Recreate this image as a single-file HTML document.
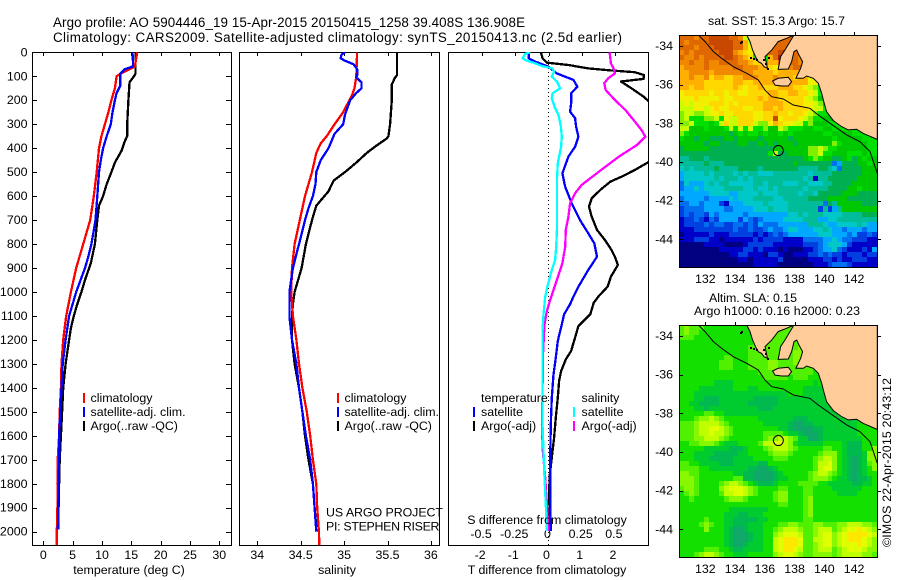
<!DOCTYPE html>
<html lang="en">
<head>
<meta charset="utf-8">
<title>Argo profile 5904446_19</title>
<style>
html,body{margin:0;padding:0;background:#fff;width:900px;height:580px;overflow:hidden}
svg{display:block}
text{font-family:"Liberation Sans",sans-serif;font-size:12.4px;fill:#000}
</style>
</head>
<body>
<svg id="chart" xmlns="http://www.w3.org/2000/svg" width="900" height="580" viewBox="0 0 900 580">
<defs>
<clipPath id="clip-temp"><rect x="32" y="52" width="199" height="493"/></clipPath>
<clipPath id="clip-sal"><rect x="239" y="52" width="200" height="493"/></clipPath>
<clipPath id="clip-diff"><rect x="448" y="52" width="200" height="493"/></clipPath>
<clipPath id="clip-map1"><rect x="679" y="35" width="198" height="232"/></clipPath>
<clipPath id="clip-map2"><rect x="679" y="325" width="198" height="232"/></clipPath>
</defs>
<text x="53" y="27" style="font-size:13.4px" textLength="472">Argo profile: AO 5904446_19 15-Apr-2015 20150415_1258 39.408S 136.908E</text>
<text x="53" y="42" style="font-size:13.4px" textLength="569">Climatology: CARS2009. Satellite-adjusted climatology: synTS_20150413.nc (2.5d earlier)</text>

<g id="heat1" clip-path="url(#clip-map1)"></g>
<g id="heat2" clip-path="url(#clip-map2)"></g>
<g id="plot-temp"></g>
<g id="plot-sal"></g>
<g id="plot-diff"></g>
<g id="maps-over"></g>

<text x="129" y="574" text-anchor="middle">temperature (deg C)</text>
<text x="337" y="574" text-anchor="middle">salinity</text>
<text x="547" y="574" text-anchor="middle">T difference from climatology</text>
<text x="547" y="524" text-anchor="middle">S difference from climatology</text>

<g>
<rect x="83" y="393" width="2" height="10" fill="#f00"/>
<rect x="83" y="407" width="2" height="10" fill="#00f"/>
<rect x="83" y="421" width="2" height="10" fill="#000"/>
<text x="90.5" y="402">climatology</text>
<text x="90.5" y="416">satellite-adj. clim.</text>
<text x="90.5" y="430">Argo(..raw -QC)</text>
</g>
<g>
<rect x="337" y="393" width="2" height="10" fill="#f00"/>
<rect x="337" y="407" width="2" height="10" fill="#00f"/>
<rect x="337" y="421" width="2" height="10" fill="#000"/>
<text x="344.5" y="402">climatology</text>
<text x="344.5" y="416" textLength="94.5">satellite-adj. clim.</text>
<text x="344.5" y="430">Argo(..raw -QC)</text>
</g>
<text x="326" y="516.5" textLength="117">US ARGO PROJECT</text>
<text x="326" y="530.5" textLength="113.5">PI: STEPHEN RISER</text>
<g>
<text x="481" y="402">temperature</text>
<rect x="473" y="407" width="2" height="10" fill="#00f"/>
<text x="481" y="416">satellite</text>
<rect x="473" y="421" width="2" height="10" fill="#000"/>
<text x="481" y="430">Argo(-adj)</text>
<text x="581.5" y="402">salinity</text>
<rect x="573" y="407" width="2" height="10" fill="#0ff"/>
<text x="581.5" y="416">satellite</text>
<rect x="573" y="421" width="2" height="10" fill="#f0f"/>
<text x="581.5" y="430">Argo(-adj)</text>
</g>

<text x="708" y="25" textLength="137">sat. SST: 15.3 Argo: 15.7</text>
<text x="709" y="302" textLength="88">Altim. SLA: 0.15</text>
<text x="694" y="315" textLength="166">Argo h1000: 0.16 h2000: 0.23</text>
<text transform="translate(891 547) rotate(-90)" textLength="169">©IMOS 22-Apr-2015 20:43:12</text>
</svg>

<script>
// ---------- profile data (depth in m, temperature in deg C, salinity in PSU) ----------
const depthTicks = [0,100,200,300,400,500,600,700,800,900,1000,1100,1200,1300,1400,1500,1600,1700,1800,1900,2000];
const tempTicks = [0,5,10,15,20,25,30];
const salTicks = [34,34.5,35,35.5,36];
const salTickLabels = ['34','34.5','35','35.5','36'];
const diffTTicks = [-2,-1,0,1,2];
const diffTTickLabels = ['-2','-1','0','1','2'];
const diffSTicks = [-0.5,-0.25,0,0.25,0.5];
const diffSTickLabels = ['-0.5','-0.25','0','0.25','0.5'];

const tempClimDepth = [0,60,90,100,150,200,250,300,350,400,500,600,700,800,900,1000,1100,1200,1300,1400,1500,1600,1700,1800,1900,2000,2060];
const tempClimValues = [16.0,15.6,13.1,12.5,12.2,11.6,11.1,10.5,9.9,9.5,9.1,8.6,8.0,6.8,5.6,4.7,3.9,3.4,3.1,3.0,2.8,2.7,2.45,2.4,2.4,2.3,2.3];
const tempSatDepth = [0,50,60,70,90,110,140,170,200,250,300,350,400,450,500,600,700,800,850,900,1000,1100,1200,1300,1400,1500,1600,1700,1800,1900,1950,1990];
const tempSatValues = [15.2,15.3,15.2,13.9,13.1,13.1,13.1,12.5,12.2,11.8,11.5,10.8,10.2,9.8,9.5,9.2,8.9,8.2,7.7,7.1,5.6,4.4,3.8,3.3,3.1,2.9,2.7,2.7,2.6,2.55,2.55,2.45];
const tempArgoDepth = [0,90,105,125,200,300,350,370,410,460,500,550,600,640,700,800,880,950,1000,1050,1100,1150,1200,1300,1400,1500,1600,1700,1800,1900,1990];
const tempArgoValues = [15.7,15.7,15.3,14.7,14.5,14.3,14.3,13.9,13.35,12.2,11.6,10.8,10.2,9.5,9.2,8.8,8.1,7.1,6.5,5.8,5.2,4.7,4.4,3.8,3.4,3.2,3.0,2.8,2.7,2.6,2.55];

const salClimDepth = [0,100,150,180,250,300,350,380,420,500,600,700,800,900,1000,1100,1200,1300,1400,1500,1600,1700,1800,1900,2000,2060];
const salClimValues = [35.15,35.14,35.12,35.09,34.99,34.89,34.80,34.73,34.68,34.63,34.55,34.49,34.43,34.40,34.39,34.41,34.45,34.48,34.52,34.57,34.61,34.64,34.68,34.69,34.71,34.715];
const salSatDepth = [0,10,25,35,50,70,90,105,125,150,170,200,230,260,300,340,400,450,500,550,600,650,700,800,900,1000,1100,1200,1300,1400,1500,1600,1700,1800,1900,2000];
const salSatValues = [35.01,34.97,34.96,35.01,35.11,35.15,35.155,35.14,35.2,35.2,35.14,35.07,35.04,35.01,34.99,34.89,34.82,34.73,34.68,34.67,34.64,34.59,34.55,34.48,34.41,34.37,34.37,34.4,34.45,34.48,34.52,34.56,34.61,34.64,34.66,34.68];
const salArgoDepth = [0,95,110,135,200,300,350,360,390,420,460,500,535,580,640,700,800,900,1000,1050,1100,1200,1300,1400,1500,1600,1700,1800,1900,1980];
const salArgoValues = [35.61,35.61,35.58,35.55,35.55,35.53,35.51,35.49,35.37,35.26,35.14,35.01,34.88,34.82,34.68,34.63,34.56,34.51,34.43,34.41,34.4,34.4,34.43,34.48,34.52,34.55,34.59,34.64,34.66,34.68];

const diffTSatDepth = [0,25,39,60,88,115,143,171,213,248,275,310,352,394,435,505,560,630,700,755,797,853,908,978,1019,1051,1093,1135,1204,1274,1344,1441,1552,1691,1830,1997];
const diffTSatValues = [-0.6,-0.6,-0.4,0,0.25,0.75,0.87,0.68,0.68,0.65,0.8,0.83,0.9,0.8,0.6,0.42,0.5,0.7,0.95,1.2,1.38,1.46,1.2,0.9,0.75,0.65,0.47,0.4,0.28,0.22,0.15,0.1,0.07,0.05,0.05,0.07];
const diffTArgoDepth = [0,25,43,53,67,76,83,95,111,122,150,185,206,324,459,491,519,540,574,609,644,686,741,783,825,853,887,936,978,1019,1045,1093,1142,1190,1246,1281,1330,1371,1441,1524,1608,1691,1775,1858,1997];
const diffTArgoValues = [-0.23,-0.18,-0.05,0.6,1.2,1.9,2.6,2.88,2.86,2.18,2.5,2.86,3.03,4.0,3.0,2.6,2.2,1.86,1.56,1.3,1.22,1.3,1.46,1.7,1.9,2.0,2.09,1.88,1.78,1.5,1.36,1.26,0.9,0.8,0.68,0.52,0.38,0.32,0.28,0.22,0.17,0.1,0.03,0.02,0.05];
const diffSSatDepth = [0,7,25,35,46,57,67,81,102,122,150,171,192,227,261,310,352,394,463,533,602,672,741,811,866,908,978,1019,1093,1163,1274,1441,1552,1663,1775,1886,1997];
const diffSSatValues = [-0.138,-0.176,-0.196,-0.163,-0.1,-0.05,0.03,0.043,0.025,0.063,0.088,0.03,0.025,0.045,0.075,0.093,0.1,0.095,0.07,0.063,0.063,0.063,0.063,0.058,0.05,0.025,-0.008,-0.025,-0.038,-0.045,-0.045,-0.045,-0.045,-0.038,-0.03,-0.02,-0.012];
const diffSArgoDepth = [0,46,67,88,108,129,157,199,241,282,324,352,387,435,477,519,553,588,630,686,741,811,880,949,1033,1079,1135,1274,1441,1552,1663,1775,1886,1997];
const diffSArgoValues = [0.46,0.47,0.49,0.5,0.45,0.42,0.43,0.5,0.58,0.64,0.7,0.73,0.665,0.53,0.43,0.33,0.25,0.2,0.163,0.15,0.13,0.126,0.105,0.063,0.0125,-0.012,-0.03,-0.043,-0.045,-0.05,-0.043,-0.025,-0.012,0];

// ---------- map data ----------
const lonTicks = [132,134,136,138,140,142];
const latTicks = [-34,-36,-38,-40,-42,-44];
const argoLon = 136.908;
const argoLat = -39.408;
const sstColors = {a:'#000080',b:'#0000c8',c:'#0040e0',d:'#0070f0',e:'#00a8ff',f:'#00c8c8',g:'#00bc98',h:'#00b050',i:'#00c800',j:'#00e000',k:'#80f000',l:'#c8ff00',m:'#f0f000',n:'#ffd800',o:'#ffb000',p:'#f08800',q:'#e06800',r:'#c84800',s:'#a02000'};
const sstRows = [
"qqqpqqrrrrqqpljjqqqq",
"qpqqqqrrrrrqqoljjqqq",
"qqqpqqqrrrrqqomljjqq",
"pqpqqqqqrrrponmjjjqqrsqqqpp",
"qppqpqqqqrrqponjjjoqsrqqpp",
"ppqppqppqqqqpponnjooqrqqpp",
"oppppqpppppqqpppoonmoopqqqqppq",
"ooppppoppppppppoooonoooooppoo",
"oopoopnoonnoopppooopooonoomm",
"ooooonnnnnnoonnoooonoooooommlkjj",
"oonoonnnnnnonmnnonnnooonnmlkjjj",
"mnnnnnmnnmnnmmnnnnoonnoonnmljjjj",
"mmmnmmmmnmmnnnnnonoonnnnnmlkijjj",
"lmlmmmnnnmnmnnnnnoooonnnnmmlkijjj",
"lllmmlmnmmnnnmmnnoononnnnnmlljijj",
"kllkklmmnmmnnnnmmnnonnmnnmlkjjiij",
"kljjjkkljmllnnnmmnnrmnnnmlkjjiiijj",
"kkljjjijlnllnnnlkkmonmmlljkiiijjjj",
"lliiijiiijljljljjkiilkjjjiijjiijjjjj",
"kjiiiiiiiihijijjijiijijiiiiiijjiiiijj",
"jiihiihhhiihiiiihiiiiihiiiiiiiijiiiiijj",
"iiiiihiihhhhiihhihihiiihiiiiiiikjiiiiijj",
"hiiiiihhhhhhhhhhhhhiiiiiiikklkjjiiiiiijj",
"hhhhhhhhhhhhhhhhhhjlhhiiiikkljjiiijjjij",
"gghhhghhhhhhhhhhhhhhhhhhhijkjiihhijhijii",
"ggggghggghhhhhhhhhhhhhhihhhhhhhdehhhiiji",
"fgfgggghgggghhhhghhhhhhhgggghhgfdhhhhiii",
"effffgfggggfgfggfffgggggggfgggghhhhhhiii",
"effffffgfgggfgfggggggggggfgbgghhhhhhiiii",
"dfeeefgfggfffffggfgggfffggfffgghhhhiiiii",
"deefeffffggggffgffgfgggggfgggghhhhiijiii",
"eeeeeeffffeeffffgfffggggfggfhhhhhiiihhhh",
"deeeedeeeefefffggggffggggghhhhiiiihhhhhh",
"ddeedeeecbeeeffffgffffgggggggdhgiiiiihhh",
"cddddeeeeddeeeefffgfffggggggcgcegiiiiiii",
"cdcddcedeeeeedeeeeeeeeffgfgggffffgggghhh",
"bccdcbdceeeecedcdeeeeffffgggeeffgggggggg",
"bccccdcddccddcdcedddeeeeeegggfeeffffgfee",
"bbbccccccccdccdccdeddeffeeeffgfeedeeedee",
"abbbbbcbbbcccccbcbcdcdeeeeeefffeeedeccdc",
"bbbcccbbabbbbbbcbccccbbbbddddeefeddcccbb",
"aaaaabbbbaaaabcccccbbbbbbcccdefffecbbbbb",
"aaaaaaaabbbbbccbcbbbabaaabbcdeefdcbbbcbe",
"aaaaaaaaaabbccbbbaccbaabbbccdcdccbcccbcc",
"aaaaaaaaaaaabbabbbbbcaaaaabbbccbcbbcccbb",
"aaaaaaaaaaaaaaabbbbbaaaaaaabbbcdddcbbbbb"
];
const slaColors = ['#10a868','#00ba50','#00cc30','#14e000','#50f000','#88f800','#c0ff00','#e0ff00','#ffe800'];
const slaRows = [
"4544433333333344444444444433333333333333",
"4544333333333334444444444444333333333333",
"4443333333333334444444444444333333333333",
"3333333333333334444444445544333333333333",
"3333333333333344444444445544333333333333",
"3333333333333344444444455544333333333333",
"3333333334433344444444455544433333333333",
"3333333344433344445544455544433333333333",
"3333333344433344445544444444433333333333",
"3333333333333333444444444443333333333333",
"3333333333333333344444344433333333333333",
"3333333222233333333333333332333333333333",
"3333222222233322333333333222233333333333",
"3332222222222222222222333222223333333333",
"3332211122222221111122222222222333333333",
"3322111122222211111122222222222233333333",
"3332212222222222111222222222222223333333",
"3333344332222222222222222222222222233333",
"3334556543333333222222211122222222223333",
"4445666654333333322222100112222222223333",
"4445667765433333333322100001122222223333",
"4445667665433333344443221000122222223333",
"4445566654333333345566542200122222222333",
"3344555432223333466776532222233332111333",
"3333322222111233345666543333344332111335",
"3332222111112233334555433333455532111255",
"3332221111122223333444333334566532101255",
"4433222211122222113333333334667532101245",
"4444332222222211001233333334677532101235",
"5544333333322110000123333345665432101233",
"5554333333344110000122333345554322101123",
"5554333345665432111233334444332222211223",
"4554333356777654333344333443333222222333",
"3454333346677654333455333443333322223333",
"3343333334555433333455333453333333333333",
"3333333333333333333344333453333333333333",
"3333333333222222223333333453333333333333",
"3333333332221122233333333453333333333333",
"3333343332211111223333333443333333333333",
"3333454332211122233344554445544455666554",
"3333353332100122233456665445666456778765",
"3333333332100012233567776445677567888876",
"3333333332100012233678887446677567888765",
"3333333332100122233678887445677567778765",
"3333344433211222233678876445666456777655",
"3334566543322233333567765445555456666554"
];
const landLon = [134.78,135.0,135.18,135.40,135.56,135.78,135.94,136.17,136.01,136.46,136.9,137.46,137.96,137.69,137.35,137.06,136.9,137.58,137.80,137.96,138.14,138.29,138.54,138.41,138.09,138.59,138.81,139.26,139.59,139.82,139.93,140.15,140.60,141.16,141.61,142.17,142.62,143.56,143.56];
const landLat = [-33.43,-33.77,-34.21,-34.59,-34.81,-34.90,-35.07,-35.15,-34.55,-34.21,-33.77,-33.60,-33.43,-33.77,-34.21,-34.55,-35.21,-35.19,-34.81,-34.29,-34.21,-34.46,-34.81,-35.15,-35.67,-35.67,-35.55,-35.67,-35.93,-36.45,-36.79,-37.40,-37.86,-38.17,-38.34,-38.31,-38.52,-38.83,-33.43];
const islandLon = [136.52,136.9,137.58,137.8,137.58,137.13,136.68];
const islandLat = [-35.81,-35.67,-35.62,-35.84,-36.07,-36.07,-36.02];
const isletLon = [134.30,134.41,135.0,135.22,135.40,136.0,136.17,136.2,135.85];
const isletLat = [-33.77,-33.72,-34.55,-34.63,-34.68,-34.90,-35.15,-34.58,-34.68];
const contourLon = [131.53,131.98,132.54,133.10,133.88,134.78,135.56,136.01,136.46,137.24,137.91,139.03,139.59,140.38,141.5,142.39,143.07,143.56];
const contourLat = [-33.43,-33.77,-34.29,-34.64,-35.07,-35.41,-35.76,-36.28,-36.62,-36.74,-37.05,-37.22,-37.57,-38.0,-38.6,-38.95,-39.46,-40.59];

// ---------- axis functions ----------
const SVGNS = 'http://www.w3.org/2000/svg';
const yDepth = d => 52.3 + d * 0.2397;
const xTemp = v => 43.3 + v * 5.867;
const xSal = v => 257.3 + (v - 34) * 86.8;
const xDiffT = v => 548.5 + v * 33.2;
const xDiffS = v => 548.5 + v * 132.8;
const xLon = lon => 679.3 + (lon - 130.25) * 14.877;
const yLat1 = lat => 35 + (-33.43 - lat) * 19.33;
const yLat2 = lat => 325 + (-33.43 - lat) * 19.33;

function svgNode(tag, parent) {
  const n = document.createElementNS(SVGNS, tag);
  parent.appendChild(n);
  return n;
}
function drawLine(parent, x1, y1, x2, y2) {
  const l = svgNode('line', parent);
  l.setAttribute('x1', x1); l.setAttribute('y1', y1);
  l.setAttribute('x2', x2); l.setAttribute('y2', y2);
  l.setAttribute('stroke', '#000');
  l.setAttribute('stroke-width', '1');
  l.setAttribute('shape-rendering', 'crispEdges');
  return l;
}
function drawLabel(parent, x, y, str, anchor) {
  const t = svgNode('text', parent);
  t.setAttribute('x', x); t.setAttribute('y', y);
  t.setAttribute('text-anchor', anchor);
  t.textContent = str;
  return t;
}
function drawSeries(parent, depths, values, xFn, color, clip) {
  const p = svgNode('polyline', parent);
  p.setAttribute('points', depths.map((d, i) => xFn(values[i]).toFixed(1) + ',' + yDepth(d).toFixed(1)).join(' '));
  p.setAttribute('fill', 'none');
  p.setAttribute('stroke', color);
  p.setAttribute('stroke-width', '2.3');
  p.setAttribute('stroke-linejoin', 'round');
  p.setAttribute('shape-rendering', 'crispEdges');
  p.setAttribute('clip-path', 'url(#' + clip + ')');
  return p;
}
function drawFrame(parent, x, y, w, h) {
  const r = svgNode('rect', parent);
  r.setAttribute('x', x); r.setAttribute('y', y);
  r.setAttribute('width', w); r.setAttribute('height', h);
  r.setAttribute('fill', 'none');
  r.setAttribute('stroke', '#000');
  r.setAttribute('stroke-width', '1');
  r.setAttribute('shape-rendering', 'crispEdges');
  return r;
}

// ---------- temperature panel ----------
const gT = document.getElementById('plot-temp');
const frameT = drawFrame(gT, 32.5, 52.5, 199, 493);


depthTicks.forEach(d => {
  const y = Math.round(yDepth(d)) + 0.5;
  if (d > 0) {
    const a = drawLine(gT, 32, y, 37, y);
    
    
    const b = drawLine(gT, 226, y, 231, y);
    
    
  }
  const lab = drawLabel(gT, 27.5, yDepth(d) + 4, String(d), 'end');
  
  
});
tempTicks.forEach(v => {
  const x = Math.round(xTemp(v)) + 0.5;
  const a = drawLine(gT, x, 52, x, 56);
  
  
  const b = drawLine(gT, x, 541, x, 545);
  
  
  const lab = drawLabel(gT, xTemp(v), 559, String(v), 'middle');
  
  
});
const tA = drawSeries(gT, tempArgoDepth, tempArgoValues, xTemp, '#000', 'clip-temp');


const tC = drawSeries(gT, tempClimDepth, tempClimValues, xTemp, '#f00', 'clip-temp');


const tS = drawSeries(gT, tempSatDepth, tempSatValues, xTemp, '#00f', 'clip-temp');



// ---------- salinity panel ----------
const gS = document.getElementById('plot-sal');
const frameS = drawFrame(gS, 239.5, 52.5, 200, 493);


salTicks.forEach((v, i) => {
  const x = Math.round(xSal(v)) + 0.5;
  const a = drawLine(gS, x, 52, x, 56);
  
  
  const b = drawLine(gS, x, 541, x, 545);
  
  
  const lab = drawLabel(gS, xSal(v), 559, salTickLabels[i], 'middle');
  
  
});
const sA = drawSeries(gS, salArgoDepth, salArgoValues, xSal, '#000', 'clip-sal');


const sC = drawSeries(gS, salClimDepth, salClimValues, xSal, '#f00', 'clip-sal');


const sS = drawSeries(gS, salSatDepth, salSatValues, xSal, '#00f', 'clip-sal');



// ---------- difference panel ----------
const gD = document.getElementById('plot-diff');
const frameD = drawFrame(gD, 448.5, 52.5, 200, 493);


diffTTicks.forEach((v, i) => {
  const x = Math.round(xDiffT(v)) + 0.5;
  const a = drawLine(gD, x, 52, x, 56);
  
  
  const lab = drawLabel(gD, xDiffT(v) - 2, 559, diffTTickLabels[i], 'middle');
  
  
});
diffSTicks.forEach((v, i) => {
  const lab = drawLabel(gD, xDiffS(v) - 1, 538, diffSTickLabels[i], 'middle');
  
  
});
const zero = drawLine(gD, 548.5, 52, 548.5, 545);
zero.setAttribute('stroke-dasharray', '1 3');


const dTA = drawSeries(gD, diffTArgoDepth, diffTArgoValues, xDiffT, '#000', 'clip-diff');


const dTS = drawSeries(gD, diffTSatDepth, diffTSatValues, xDiffT, '#00f', 'clip-diff');


const dSA = drawSeries(gD, diffSArgoDepth, diffSArgoValues, xDiffS, '#f0f', 'clip-diff');


const dSS = drawSeries(gD, diffSSatDepth, diffSSatValues, xDiffS, '#0ff', 'clip-diff');



// ---------- maps ----------
const COLS = 40, ROWS = 46, MAPX = 679, MAPW = 198, MAPH = 232;
function drawHeat(parent, top, rows, colorOf) {
  for (let r = 0; r < ROWS; r++) {
    const row = rows[r].padEnd(COLS, rows[r].charAt(rows[r].length - 1));
    const y0 = Math.round(top + r * MAPH / ROWS), y1 = Math.round(top + (r + 1) * MAPH / ROWS);
    for (let c = 0; c < COLS; c++) {
      const x0 = Math.round(MAPX + c * MAPW / COLS), x1 = Math.round(MAPX + (c + 1) * MAPW / COLS);
      const cell = svgNode('rect', parent);
      cell.setAttribute('x', x0); cell.setAttribute('y', y0);
      cell.setAttribute('width', x1 - x0); cell.setAttribute('height', y1 - y0);
      cell.setAttribute('fill', colorOf(row.charAt(c)));
      cell.setAttribute('shape-rendering', 'crispEdges');
      
      
    }
  }
}
drawHeat(document.getElementById('heat1'), 35, sstRows, ch => sstColors[ch]);
drawHeat(document.getElementById('heat2'), 325, slaRows, ch => slaColors[+ch]);

function pts(lons, lats, yFn) {
  return lons.map((lo, i) => xLon(lo).toFixed(1) + ',' + yFn(lats[i]).toFixed(1)).join(' ');
}
function drawMap(yFn, top, clip) {
  const g = document.getElementById('maps-over');
  const land = svgNode('polygon', g);
  land.setAttribute('points', pts(landLon, landLat, yFn));
  land.setAttribute('fill', '#ffcc99');
  land.setAttribute('stroke', '#000');
  land.setAttribute('stroke-width', '1');
  land.setAttribute('clip-path', 'url(#' + clip + ')');
  
  
  const island = svgNode('polygon', g);
  island.setAttribute('points', pts(islandLon, islandLat, yFn));
  island.setAttribute('fill', '#ffcc99');
  island.setAttribute('stroke', '#000');
  island.setAttribute('stroke-width', '1');
  
  
  isletLon.forEach((lo, i) => {
    const d = svgNode('rect', g);
    d.setAttribute('x', Math.round(xLon(lo)));
    d.setAttribute('y', Math.round(yFn(isletLat[i])));
    d.setAttribute('width', '2');
    d.setAttribute('height', '2');
    d.setAttribute('fill', '#000');
    
    
  });
  const contour = svgNode('polyline', g);
  contour.setAttribute('points', pts(contourLon, contourLat, yFn));
  contour.setAttribute('fill', 'none');
  contour.setAttribute('stroke', '#000');
  contour.setAttribute('stroke-width', '1');
  contour.setAttribute('clip-path', 'url(#' + clip + ')');
  
  
  const frame = drawFrame(g, 679.5, top + 0.5, 198, MAPH);
  
  
  lonTicks.forEach(lo => {
    const x = Math.round(xLon(lo)) + 0.5;
    const t = drawLine(g, x, top - 3, x, top);
    
    
    const lab = drawLabel(g, xLon(lo), top + 248, String(lo), 'middle');
    
    
  });
  latTicks.forEach(la => {
    const y = Math.round(yFn(la)) + 0.5;
    const t = drawLine(g, 679, y, 683, y);
    
    
    const t2 = drawLine(g, 877, y, 881, y);
    
    
    const lab = drawLabel(g, 673, yFn(la) + 4, String(la), 'end');
    
    
  });
  const m = svgNode('circle', g);
  m.setAttribute('cx', xLon(argoLon));
  m.setAttribute('cy', yFn(argoLat));
  m.setAttribute('r', '5');
  m.setAttribute('fill', 'none');
  m.setAttribute('stroke', '#000');
  m.setAttribute('stroke-width', '1');
  
  
}
drawMap(yLat1, 35, 'clip-map1');
drawMap(yLat2, 325, 'clip-map2');
</script>
</body>
</html>
